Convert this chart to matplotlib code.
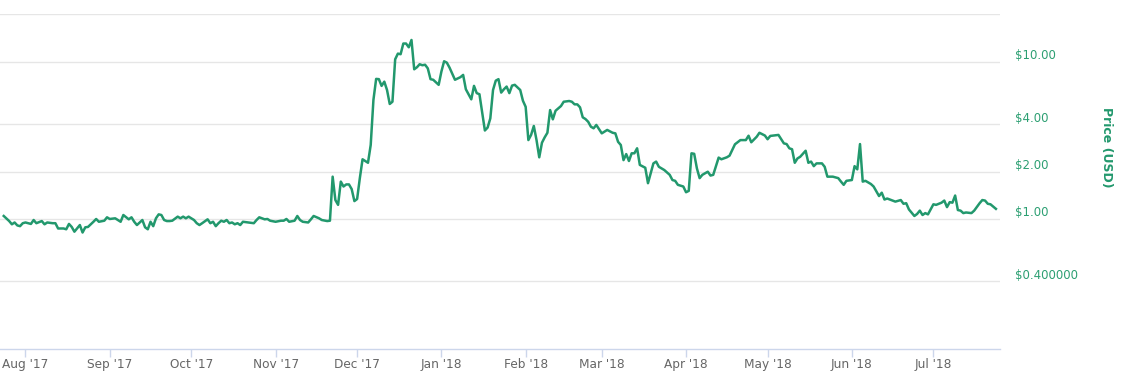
import pandas as pd
import matplotlib
matplotlib.use("Agg")
import matplotlib.pyplot as plt
import matplotlib.dates as mdates
from matplotlib.transforms import offset_copy, blended_transform_factory

### DATA
# Daily price readings, as day offsets from the first date
start_date = "2017-07-24"
days = [
    0, 2, 3, 4, 5, 6, 7, 8, 10, 11, 12, 14, 15, 16, 18, 19, 20, 22, 23, 24,
    25, 26, 28, 29, 30, 31, 33, 34, 35, 37, 38, 39, 41, 42, 43, 44, 46, 47, 48, 49,
    50, 51, 52, 53, 54, 55, 56, 57, 58, 59, 60, 61, 62, 64, 65, 66, 67, 68, 70, 71,
    72, 73, 75, 76, 77, 78, 79, 80, 81, 82, 83, 84, 85, 86, 87, 88, 90, 92, 93, 94,
    96, 97, 98, 100, 102, 103, 104, 105, 107, 108, 109, 110, 112, 113, 114, 116, 117, 119, 120, 121,
    122, 123, 124, 125, 126, 127, 128, 129, 130, 131, 132, 133, 134, 135, 136, 137, 138, 139, 140, 141,
    142, 143, 144, 145, 146, 147, 148, 149, 150, 151, 152, 153, 154, 155, 156, 157, 158, 160, 161, 162,
    163, 164, 166, 168, 169, 170, 172, 173, 174, 175, 177, 178, 179, 180, 181, 182, 183, 184, 185, 186,
    187, 188, 190, 191, 192, 193, 194, 195, 196, 197, 198, 199, 200, 201, 202, 203, 205, 206, 208, 209,
    210, 211, 212, 213, 214, 215, 216, 217, 218, 220, 222, 224, 225, 226, 227, 228, 229, 230, 231, 232,
    233, 234, 236, 237, 238, 239, 240, 241, 243, 244, 245, 246, 247, 248, 250, 251, 252, 253, 254, 255,
    256, 257, 259, 260, 261, 263, 264, 266, 267, 268, 269, 271, 273, 274, 275, 277, 278, 280, 281, 282,
    285, 286, 287, 288, 289, 290, 291, 292, 293, 295, 296, 297, 298, 299, 301, 302, 303, 305, 307, 308,
    309, 310, 312, 313, 314, 315, 316, 317, 318, 319, 320, 322, 323, 324, 325, 327, 328, 330, 331, 332,
    333, 335, 336, 337, 338, 339, 340, 341, 342, 343, 345, 346, 347, 348, 349, 350, 351, 352, 353, 354,
    356, 357, 359, 360, 361, 362, 363, 364, 365,
]
prices = [
    1.045, 0.97, 0.925, 0.95, 0.91, 0.90, 0.94, 0.95, 0.93, 0.985, 0.94, 0.97, 0.925, 0.95, 0.94, 0.94, 0.87, 0.87, 0.86, 0.93,
    0.89, 0.83, 0.915, 0.82, 0.885, 0.89, 0.96, 1.0, 0.96, 0.975, 1.025, 1.0, 1.01, 0.985, 0.96, 1.06, 0.995, 1.025, 0.96, 0.915,
    0.95, 0.985, 0.885, 0.86, 0.96, 0.90, 1.01, 1.07, 1.06, 0.985, 0.97, 0.97, 0.975, 1.035, 1.01, 1.035, 1.01, 1.035, 0.985, 0.94,
    0.915, 0.94, 0.995, 0.94, 0.96, 0.90, 0.94, 0.975, 0.96, 0.985, 0.94, 0.95, 0.925, 0.94, 0.915, 0.96, 0.95, 0.94, 0.985, 1.025,
    0.995, 1.0, 0.975, 0.96, 0.975, 0.975, 1.0, 0.96, 0.975, 1.045, 0.985, 0.96, 0.95, 0.995, 1.045, 1.01, 0.985, 0.97, 0.975, 1.86,
    1.32, 1.23, 1.73, 1.61, 1.66, 1.66, 1.55, 1.30, 1.34, 1.82, 2.40, 2.34, 2.28, 2.96, 5.73, 7.80, 7.77, 7.04, 7.49, 6.63,
    5.40, 5.58, 10.4, 11.3, 11.2, 13.1, 13.1, 12.4, 13.8, 8.98, 9.25, 9.67, 9.53, 9.6, 9.1, 7.77, 7.7, 7.15, 8.68, 10.1,
    9.9, 9.2, 7.7, 8.0, 8.27, 6.7, 5.78, 7.04, 6.33, 6.23, 3.66, 3.82, 4.37, 6.63, 7.6, 7.77, 6.38, 6.7, 6.97, 6.33,
    7.07, 7.15, 6.63, 5.66, 5.18, 3.18, 3.43, 3.91, 3.18, 2.47, 3.06, 3.31, 3.54, 4.94, 4.31, 4.89, 5.24, 5.58, 5.64, 5.58,
    5.37, 5.37, 5.14, 4.44, 4.33, 4.16, 3.87, 3.78, 3.97, 3.51, 3.69, 3.54, 3.51, 3.10, 2.96, 2.37, 2.59, 2.34, 2.62, 2.62,
    2.82, 2.21, 2.12, 1.69, 1.95, 2.26, 2.32, 2.15, 2.05, 1.98, 1.91, 1.77, 1.75, 1.65, 1.61, 1.48, 1.51, 2.62, 2.60, 2.10,
    1.82, 1.91, 2.0, 1.89, 1.91, 2.46, 2.40, 2.47, 2.53, 2.75, 2.99, 3.18, 3.18, 3.39, 3.08, 3.34, 3.54, 3.40, 3.22, 3.38,
    3.43, 3.22, 3.03, 3.0, 2.82, 2.78, 2.28, 2.43, 2.49, 2.72, 2.28, 2.32, 2.17, 2.26, 2.26, 2.15, 1.86, 1.86, 1.82, 1.73,
    1.65, 1.75, 1.77, 2.17, 2.07, 3.0, 1.73, 1.75, 1.71, 1.67, 1.61, 1.40, 1.47, 1.33, 1.35, 1.31, 1.29, 1.32, 1.25, 1.26,
    1.15, 1.045, 1.076, 1.13, 1.06, 1.09, 1.07, 1.15, 1.24, 1.23, 1.27, 1.31, 1.19, 1.28, 1.27, 1.41, 1.14, 1.13, 1.09, 1.10,
    1.09, 1.13, 1.26, 1.32, 1.31, 1.25, 1.24, 1.20, 1.16,
]

y_ticks = [0.4, 1.0, 2.0, 4.0, 10.0]
y_tick_labels = ["$0.400000", "$1.00", "$2.00", "$4.00", "$10.00"]

dates = pd.Timestamp(start_date) + pd.to_timedelta(days, unit="D")

### VISUALIZATION
green = "#22986d"
label_green = "#2c9f72"

fig = plt.figure(figsize=(11.25, 3.82), dpi=100)
ax = fig.add_axes([0.0, 1 - 349 / 382, 1000 / 1125, (349 - 14) / 382])

ax.plot(dates, prices, color=green, linewidth=1.8, solid_joinstyle="round")

# Log price axis
ax.set_yscale("log")
y_low, y_high = 0.1486, 20.2
ax.set_ylim(y_low, y_high)
ax.set_xlim(pd.Timestamp("2017-07-22 15:00"), pd.Timestamp("2018-07-25 12:00"))

# Grid lines (including top edge), labels drawn manually slightly above lines
ax.yaxis.set_major_locator(plt.FixedLocator(y_ticks + [y_high]))
ax.yaxis.set_minor_locator(plt.NullLocator())
ax.tick_params(axis="y", which="both", left=False, right=False, labelleft=False, labelright=False)
ax.grid(axis="y", color="#e6e6e6", linewidth=1)
ax.set_axisbelow(True)

trans = blended_transform_factory(ax.transAxes, ax.transData)
trans = offset_copy(trans, fig=fig, x=15, y=6, units="dots")
for val, lab in zip(y_ticks, y_tick_labels):
    ax.text(1.0, val, lab, transform=trans, ha="left", va="center",
            color=label_green, fontsize=8.5, clip_on=False)

fig.text(1107 / 1125, 1 - 147 / 382, "Price (USD)", rotation=270, ha="center", va="center",
         color=green, fontsize=9, fontweight="bold")

# Month ticks
ax.xaxis.set_major_locator(mdates.MonthLocator())
ax.xaxis.set_major_formatter(mdates.DateFormatter("%b '%y"))
ax.tick_params(axis="x", length=6, width=1, color="#ccd6eb", labelcolor="#666666",
               labelsize=8.7, pad=0.5)

for side in ["top", "left", "right"]:
    ax.spines[side].set_visible(False)
ax.spines["bottom"].set_color("#ccd6eb")
ax.spines["bottom"].set_linewidth(1)

fig.savefig("out.png", dpi=100)
